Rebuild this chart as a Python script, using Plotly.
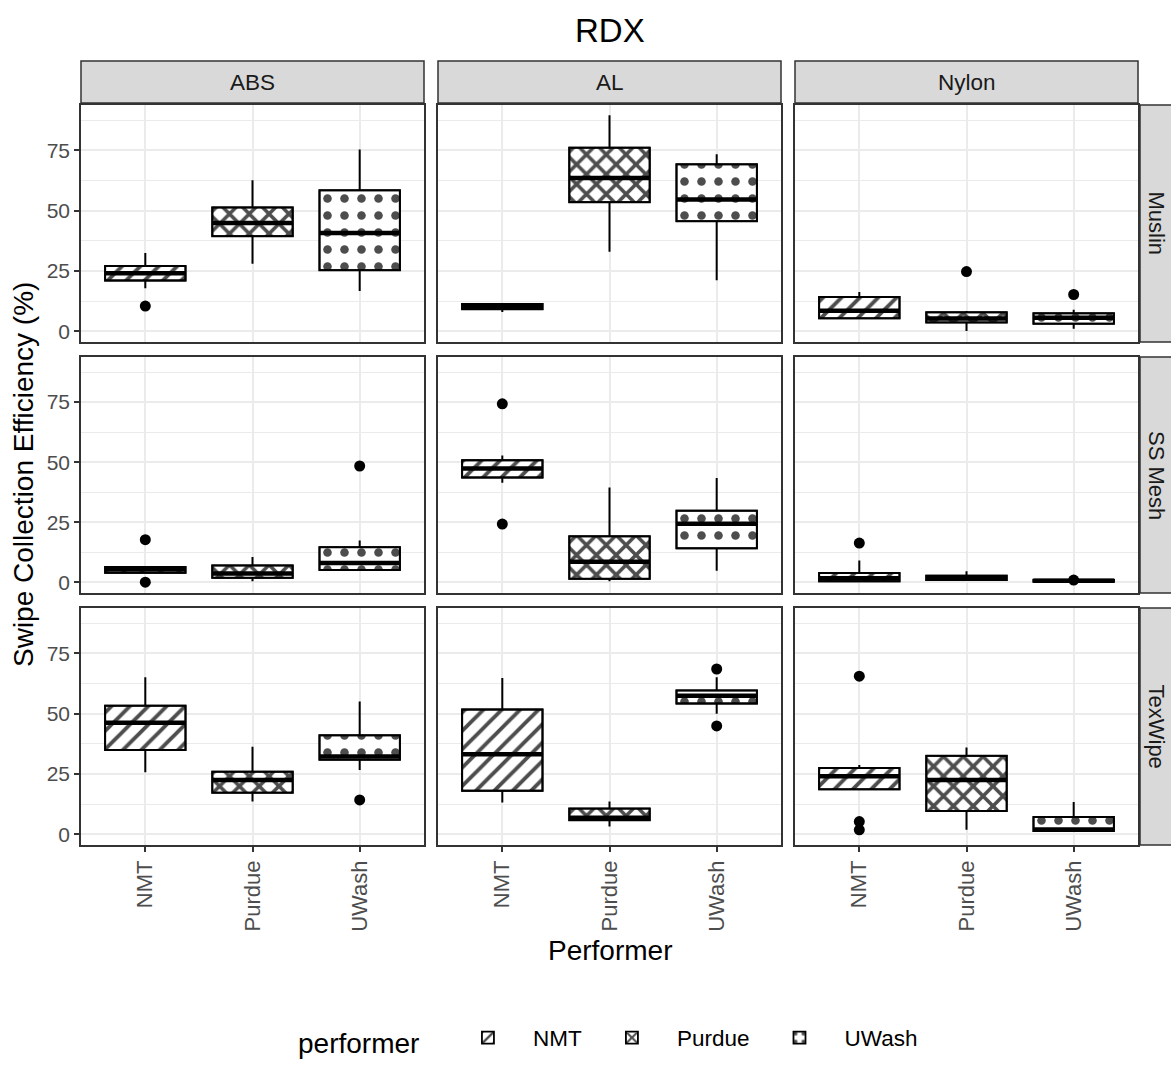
import plotly.graph_objects as go

# ---------------- data ----------------
materials = ["ABS", "AL", "Nylon"]            # facet columns
swabs = ["Muslin", "SS Mesh", "TexWipe"]      # facet rows
performers = ["NMT", "Purdue", "UWash"]       # x categories

# stats[row][col][performer]
lower_whisker = [
    [[17.8, 28.0, 16.7], [7.9, 32.9, 21.1], [5.0, 0.1, 1.0]],
    [[3.6, 0.4, 4.8], [41.4, 0.4, 4.8], [0.2, 0.5, 0.1]],
    [[25.7, 13.5, 26.6], [13.1, 3.2, 49.9], [18.6, 1.8, 1.1]],
]
q1 = [
    [[21.0, 39.4, 25.3], [9.1, 53.5, 45.6], [5.3, 3.6, 3.1]],
    [[3.9, 1.8, 5.1], [43.6, 1.4, 14.1], [0.4, 0.9, 0.2]],
    [[34.9, 17.2, 30.9], [18.0, 5.8, 54.2], [18.6, 9.6, 1.3]],
]
median = [
    [[24.0, 44.9, 40.7], [10.2, 63.5, 54.6], [8.5, 5.2, 5.6]],
    [[5.3, 3.6, 8.0], [47.4, 8.5, 24.3], [1.6, 1.8, 0.6]],
    [[46.2, 22.5, 32.2], [33.1, 6.8, 57.4], [24.0, 22.5, 1.9]],
]
q3 = [
    [[27.0, 51.3, 58.4], [11.3, 76.1, 69.2], [14.2, 7.8, 7.4]],
    [[6.3, 7.0, 14.6], [50.8, 19.1, 29.8], [3.8, 2.7, 1.0]],
    [[53.3, 25.9, 41.0], [51.7, 10.6, 59.6], [27.4, 32.5, 7.1]],
]
upper_whisker = [
    [[32.4, 62.6, 75.3], [11.6, 89.5, 73.4], [16.2, 8.4, 8.9]],
    [[6.6, 10.5, 17.4], [52.8, 39.4, 43.4], [9.0, 4.6, 1.2]],
    [[65.1, 36.3, 55.0], [64.8, 13.5, 65.1], [28.7, 35.9, 13.3]],
]
outliers = [
    [[[10.4], [], []], [[], [], []], [[], [24.7], [15.2]]],
    [[[17.7, 0.0], [], [48.4]], [[74.3, 24.2], [], []], [[16.3], [], [0.9]]],
    [[[], [], [14.2]], [[], [], [68.5, 44.9]], [[65.5, 5.2, 1.8], [], []]],
]
y_ticks = [0, 25, 50, 75]
y_minor = [12.5, 37.5, 62.5, 87.5]

# ---------------- styling ----------------
W, H = 1171, 1067
FONT = "Liberation Sans, Arial, sans-serif"
col_px = [(81, 424), (438, 781), (795, 1138)]
row_px = [(105, 342), (357, 593), (608, 845)]


def px(v):
    return v / W


def py(v):
    return 1 - v / H


patterns = {
    "NMT": dict(shape="/", size=13, solidity=0.3),
    "Purdue": dict(shape="x", size=14, solidity=0.45),
    "UWash": dict(shape=".", size=17, solidity=0.2),
}
pat_color = "#4D4D4D"

fig = go.Figure()
layout = dict(
    width=W, height=H,
    margin=dict(l=0, r=0, t=0, b=0),
    paper_bgcolor="white", plot_bgcolor="white",
    barmode="overlay", boxmode="overlay",
    font=dict(family=FONT, color="#1A1A1A"),
    showlegend=True,
)

shapes = []
annotations = []

for r in range(3):
    for c in range(3):
        n = r * 3 + c + 1
        xa = "x" if n == 1 else f"x{n}"
        ya = "y" if n == 1 else f"y{n}"
        # patterned boxes (bars from q1 to q3)
        for i, p in enumerate(performers):
            fig.add_trace(go.Bar(
                x=[p], base=[q1[r][c][i]], y=[q3[r][c][i] - q1[r][c][i]],
                width=0.75, name=p, legendgroup=p,
                showlegend=(n == 1),
                marker=dict(color="white",
                            line=dict(color="black", width=1.8),
                            pattern=dict(fgcolor=pat_color, bgcolor="white",
                                         fillmode="replace", **patterns[p])),
                xaxis=xa, yaxis=ya, hoverinfo="skip",
            ))
        # box outlines + whiskers
        fig.add_trace(go.Box(
            x=performers, q1=q1[r][c], median=median[r][c], q3=q3[r][c],
            lowerfence=lower_whisker[r][c], upperfence=upper_whisker[r][c],
            width=0.75, whiskerwidth=0, boxpoints=False,
            fillcolor="rgba(0,0,0,0)", line=dict(color="black", width=2),
            showlegend=False, xaxis=xa, yaxis=ya, hoverinfo="skip",
        ))
        # thick median lines
        fig.add_trace(go.Box(
            x=performers, q1=median[r][c], median=median[r][c], q3=median[r][c],
            lowerfence=median[r][c], upperfence=median[r][c],
            width=0.75, whiskerwidth=0, boxpoints=False,
            fillcolor="rgba(0,0,0,0)", line=dict(color="black", width=4.5),
            showlegend=False, xaxis=xa, yaxis=ya, hoverinfo="skip",
        ))
        # outliers
        ox, oy = [], []
        for i, p in enumerate(performers):
            for v in outliers[r][c][i]:
                ox.append(p)
                oy.append(v)
        fig.add_trace(go.Scatter(
            x=ox, y=oy, mode="markers",
            marker=dict(color="black", size=11),
            showlegend=False, xaxis=xa, yaxis=ya, hoverinfo="skip",
        ))

        x0, x1 = col_px[c]
        y0, y1 = row_px[r]
        bottom = (r == 2)
        left = (c == 0)
        layout["xaxis" if n == 1 else f"xaxis{n}"] = dict(
            domain=[px(x0), px(x1)], anchor=ya,
            type="category", categoryorder="array", categoryarray=performers,
            range=[-0.6, 2.6],
            showgrid=True, gridcolor="#EBEBEB", gridwidth=1.5,
            showline=True, mirror=True, linecolor="#333333", linewidth=1.5,
            zeroline=False,
            ticks="outside" if bottom else "", ticklen=5, tickwidth=1.5,
            tickcolor="#333333",
            showticklabels=bottom, tickangle=-90,
            tickfont=dict(size=22, color="#4D4D4D", family=FONT),
        )
        layout["yaxis" if n == 1 else f"yaxis{n}"] = dict(
            domain=[py(y1), py(y0)], anchor=xa,
            range=[-4.5, 93.8],
            tickmode="array", tickvals=y_ticks,
            showgrid=True, gridcolor="#EBEBEB", gridwidth=1.5,
            minor=dict(tickmode="array", tickvals=y_minor, showgrid=True,
                       gridcolor="#EBEBEB", gridwidth=0.8, ticks=""),
            showline=True, mirror=True, linecolor="#333333", linewidth=1.5,
            zeroline=False,
            ticks="outside" if left else "", ticklen=5, tickwidth=1.5,
            tickcolor="#333333",
            showticklabels=left,
            tickfont=dict(size=21, color="#4D4D4D", family=FONT),
        )

# column strips
for c, m in enumerate(materials):
    x0, x1 = col_px[c]
    shapes.append(dict(type="rect", xref="paper", yref="paper",
                       x0=px(x0), x1=px(x1), y0=py(103), y1=py(61),
                       fillcolor="#D9D9D9", line=dict(color="#333333", width=1.5),
                       layer="above"))
    annotations.append(dict(text=m, xref="paper", yref="paper",
                            x=px((x0 + x1) / 2), y=py(82), showarrow=False,
                            font=dict(size=22.5, color="#1A1A1A", family=FONT),
                            xanchor="center", yanchor="middle"))
# row strips
for r, s in enumerate(swabs):
    y0, y1 = row_px[r]
    shapes.append(dict(type="rect", xref="paper", yref="paper",
                       x0=px(1140), x1=px(1190), y0=py(y1), y1=py(y0),
                       fillcolor="#D9D9D9", line=dict(color="#333333", width=1.5),
                       layer="above"))
    annotations.append(dict(text=s, xref="paper", yref="paper",
                            x=px(1156), y=py((y0 + y1) / 2), showarrow=False,
                            textangle=90,
                            font=dict(size=22, color="#1A1A1A", family=FONT),
                            xanchor="center", yanchor="middle"))

# titles
annotations.append(dict(text="RDX", xref="paper", yref="paper",
                        x=px(609.5), y=py(30), showarrow=False,
                        font=dict(size=33, color="black", family=FONT),
                        xanchor="center", yanchor="middle"))
annotations.append(dict(text="Performer", xref="paper", yref="paper",
                        x=px(609.5), y=py(950), showarrow=False,
                        font=dict(size=28, color="black", family=FONT),
                        xanchor="center", yanchor="middle"))
annotations.append(dict(text="Swipe Collection Efficiency (%)", xref="paper",
                        yref="paper", x=px(24), y=py(475), showarrow=False,
                        textangle=-90,
                        font=dict(size=28, color="black", family=FONT),
                        xanchor="center", yanchor="middle"))

layout["shapes"] = shapes
layout["annotations"] = annotations
layout["legend"] = dict(
    orientation="h", x=px(609.5), xanchor="center",
    y=py(1040), yanchor="middle",
    title=dict(text="performer  ", side="left",
               font=dict(size=28, color="black", family=FONT)),
    font=dict(size=22.5, color="black", family=FONT),
    itemwidth=80, bgcolor="rgba(0,0,0,0)",
    tracegroupgap=20,
)
fig.update_layout(**layout)
fig.write_html(
    "out.html",
    config={"displayModeBar": False},
    post_script="document.body.style.margin='0';"
                "document.body.style.overflow='hidden';",
)
